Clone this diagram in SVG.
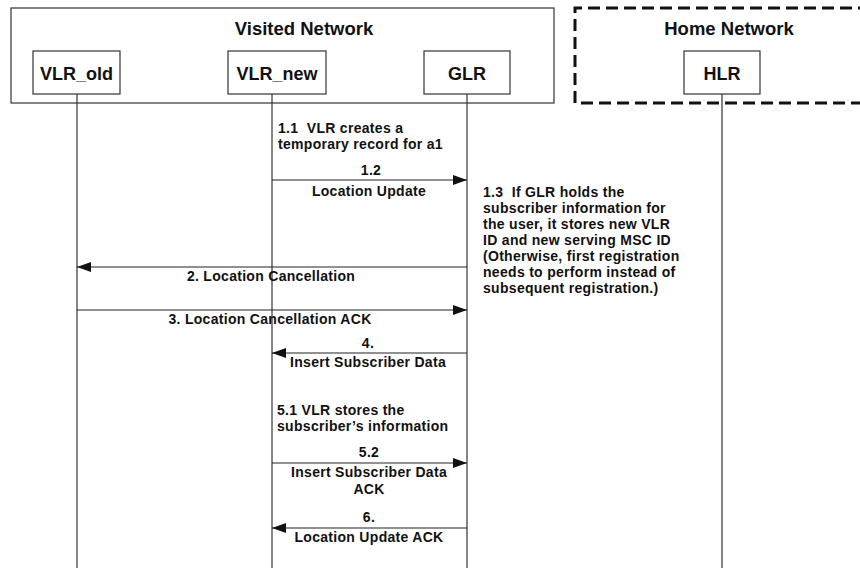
<svg xmlns="http://www.w3.org/2000/svg" width="860" height="568" viewBox="0 0 860 568">
<defs>
<style>
text{font-family:"Liberation Sans",Arial,sans-serif;font-weight:bold;fill:#111;}
.title{font-size:18.5px;text-anchor:middle;}
.node{font-size:18px;text-anchor:middle;}
.lbl{font-size:14px;letter-spacing:0.3px;text-anchor:middle;}
.note{font-size:14px;letter-spacing:0.3px;white-space:pre;}
.box{fill:#fff;stroke:#333;stroke-width:1.2;}
.net{fill:none;stroke:#333;stroke-width:1.2;}
.home{fill:none;stroke:#111;stroke-width:3;stroke-dasharray:12 6;}
.life{stroke:#333;stroke-width:1.2;fill:none;}
.msg{stroke:#222;stroke-width:1.2;fill:none;marker-end:url(#ah);}
</style>
<marker id="ah" markerWidth="14" markerHeight="10" refX="14" refY="5" orient="auto" markerUnits="userSpaceOnUse">
<path d="M0,0 L14,5 L0,10 z" fill="#111"/>
</marker>
</defs>
<rect width="860" height="568" fill="#fff"/>

<g id="visited-network">
<rect class="net" x="11" y="8" width="543" height="95"/>
<text class="title" x="304" y="35">Visited Network</text>
</g>
<g id="home-network">
<path class="home" d="M870,8 H575 V103 H870"/>
<text class="title" x="729" y="35">Home Network</text>
</g>

<g id="lifelines">
<line class="life" x1="77" y1="94" x2="77" y2="568"/>
<line class="life" x1="272" y1="94" x2="272" y2="568"/>
<line class="life" x1="467" y1="94" x2="467" y2="568"/>
<line class="life" x1="722" y1="94" x2="722" y2="568"/>
</g>

<g id="VLR_old">
<rect class="box" x="33" y="51" width="87" height="43"/>
<text class="node" x="76.5" y="80">VLR_old</text>
</g>
<g id="VLR_new">
<rect class="box" x="228" y="51" width="98" height="43"/>
<text class="node" x="277" y="80">VLR_new</text>
</g>
<g id="GLR">
<rect class="box" x="424" y="51" width="86" height="43"/>
<text class="node" x="467" y="80">GLR</text>
</g>
<g id="HLR">
<rect class="box" x="684" y="51" width="76" height="43"/>
<text class="node" x="722" y="80">HLR</text>
</g>

<g id="connectors">
<line class="msg" x1="272" y1="180" x2="467" y2="180"/>
<line class="msg" x1="467" y1="267" x2="77" y2="267"/>
<line class="msg" x1="77" y1="310" x2="467" y2="310"/>
<line class="msg" x1="467" y1="353" x2="272" y2="353"/>
<line class="msg" x1="272" y1="463" x2="467" y2="463"/>
<line class="msg" x1="467" y1="528" x2="272" y2="528"/>
</g>

<g id="labels">
<text class="note" x="278" y="133">1.1  VLR creates a</text>
<text class="note" x="278" y="149">temporary record for a1</text>
<text class="lbl" x="371" y="175">1.2</text>
<text class="lbl" x="369" y="196">Location Update</text>

<text class="note" x="483" y="197">1.3  If GLR holds the</text>
<text class="note" x="483" y="213">subscriber information for</text>
<text class="note" x="483" y="229">the user, it stores new VLR</text>
<text class="note" x="483" y="245">ID and new serving MSC ID</text>
<text class="note" x="483" y="261">(Otherwise, first registration</text>
<text class="note" x="483" y="277">needs to perform instead of</text>
<text class="note" x="483" y="293">subsequent registration.)</text>

<text class="lbl" x="271" y="281">2. Location Cancellation</text>
<text class="lbl" x="270" y="324">3. Location Cancellation ACK</text>

<text class="lbl" x="368" y="348">4.</text>
<text class="lbl" x="368" y="367">Insert Subscriber Data</text>

<text class="note" x="277" y="415">5.1 VLR stores the</text>
<text class="note" x="277" y="431">subscriber’s information</text>

<text class="lbl" x="369" y="457">5.2</text>
<text class="lbl" x="369" y="477">Insert Subscriber Data</text>
<text class="lbl" x="369" y="494">ACK</text>

<text class="lbl" x="369" y="522">6.</text>
<text class="lbl" x="369" y="542">Location Update ACK</text>
</g>
</svg>
